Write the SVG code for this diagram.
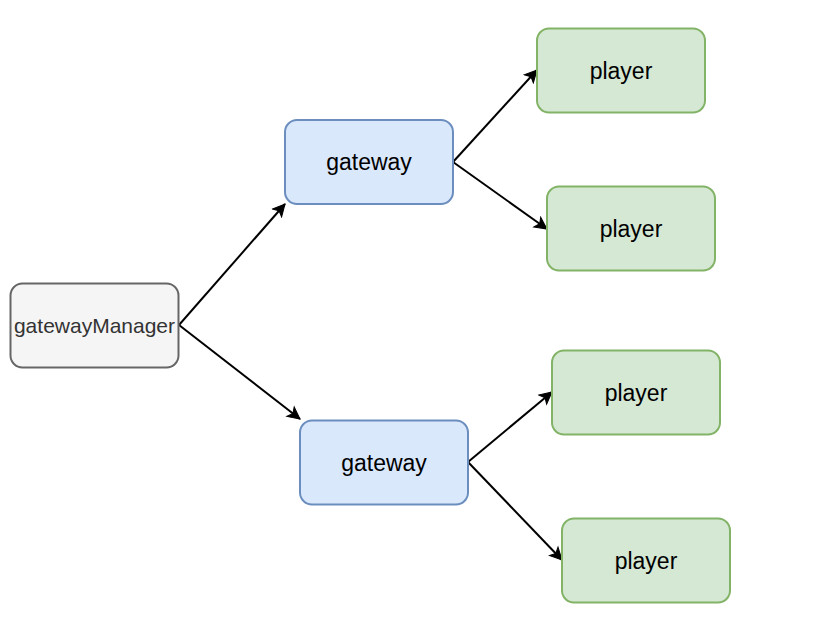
<svg xmlns="http://www.w3.org/2000/svg" width="828" height="624" viewBox="0 0 828 624">
<style>
.mgr{fill:#f5f5f5;stroke:#666666;stroke-width:2}
.gw{fill:#dae8fc;stroke:#6c8ebf;stroke-width:2}
.pl{fill:#d5e8d4;stroke:#82b366;stroke-width:2}
text{font-family:"Liberation Sans",Arial,Helvetica,sans-serif;text-anchor:middle;dominant-baseline:central;fill:#000000;font-size:23px}
.mgrt{fill:#333333;font-size:21px}
.edge{fill:none;stroke:#000000;stroke-width:2}
</style>
<defs>
<marker id="arr" markerUnits="userSpaceOnUse" markerWidth="16" markerHeight="16" viewBox="0 0 16 16" refX="13" refY="8" orient="auto">
<path d="M1,2 L13,8 L1,14 L4,8 Z" fill="#000000" stroke="#000000" stroke-width="1"/>
</marker>
</defs>
<rect width="828" height="624" fill="#ffffff"/>
<g id="connectors">
<path class="edge" d="M179,325 L285,204" marker-end="url(#arr)"/>
<path class="edge" d="M179,325 L300,419" marker-end="url(#arr)"/>
<path class="edge" d="M453,162 L537,70" marker-end="url(#arr)"/>
<path class="edge" d="M453,162 L547,229" marker-end="url(#arr)"/>
<path class="edge" d="M468,462 L552,392" marker-end="url(#arr)"/>
<path class="edge" d="M468,462 L562,560" marker-end="url(#arr)"/>
</g>
<g id="gatewayManager">
<rect class="mgr" x="10.5" y="283.5" width="168" height="84" rx="12"/>
<text class="mgrt" x="94.5" y="325.5">gatewayManager</text>
</g>
<g id="gateway1">
<rect class="gw" x="285" y="120" width="168" height="84" rx="12"/>
<text x="369" y="162">gateway</text>
</g>
<g id="gateway2">
<rect class="gw" x="300" y="420.5" width="168" height="84" rx="12"/>
<text x="384" y="462.5">gateway</text>
</g>
<g id="player1">
<rect class="pl" x="537" y="28.5" width="168" height="84" rx="12"/>
<text x="621" y="70.5">player</text>
</g>
<g id="player2">
<rect class="pl" x="547" y="186.5" width="168" height="84" rx="12"/>
<text x="631" y="228.5">player</text>
</g>
<g id="player3">
<rect class="pl" x="552" y="350.5" width="168" height="84" rx="12"/>
<text x="636" y="392.5">player</text>
</g>
<g id="player4">
<rect class="pl" x="562" y="518.5" width="168" height="84" rx="12"/>
<text x="646" y="560.5">player</text>
</g>
</svg>
